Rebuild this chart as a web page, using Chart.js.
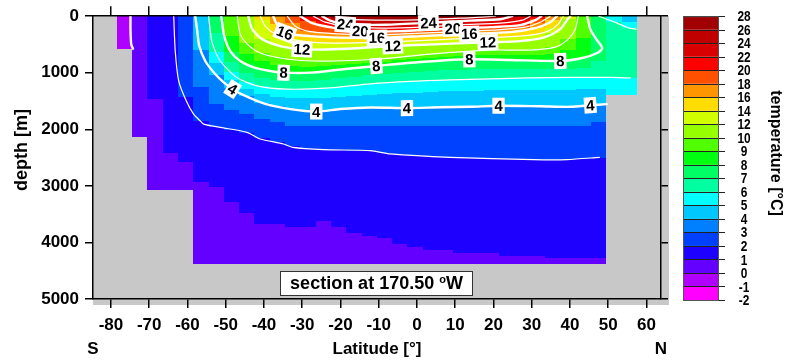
<!DOCTYPE html>
<html>
<head>
<meta charset="utf-8">
<title>Temperature section at 170.50°W</title>
<script src="https://cdn.jsdelivr.net/npm/chart.js"></script>
<style>
  html, body { margin: 0; padding: 0; background: #fff; }
</style>
</head>
<body>
<canvas id="section" width="788" height="362"></canvas>
<script>
// temperature classes (°C) and the fill colour of each class [levels[i], levels[i+1])
const levels = [-2, -1, 0, 1, 2, 3, 4, 5, 6, 7, 8, 9, 10, 12, 14, 16, 18, 20, 22, 24, 26, 28];
const bandColors = ['#ff00ff', '#b000ff', '#6400ff', '#1e00ff', '#0040ff', '#0080ff', '#00c8ff',
  '#00ffff', '#00ffa0', '#00ff64', '#00ff10', '#50ff00', '#96ff00', '#d2ff00', '#ffdc00',
  '#ff9600', '#ff5000', '#ff0000', '#d80000', '#c00000', '#a00000'];

// latitude edges of the 4-degree model columns
const colEdges = [-78.5, -74.5, -70.5, -66.5, -62.5, -58.5, -54.5, -50.5, -46.5, -42.5, -38.5,
  -34.5, -30.5, -26.5, -22.5, -18.5, -14.5, -10.5, -6.5, -2.5, 1.5, 5.5, 9.5, 13.5, 17.5, 21.5,
  25.5, 29.5, 33.5, 37.5, 41.5, 45.5, 49.5, 53.5, 57.5];

// sea floor depth of each column (m)
const seaFloor = [575, 2130, 3081, 3081, 3081,
  4380, 4380, 4380, 4380, 4380, 4380, 4380, 4380, 4380, 4380, 4380, 4380, 4380, 4380,
  4380, 4380, 4380, 4380, 4380, 4380, 4380, 4380, 4380, 4380, 4380, 4380, 4380, 1400, 1400];

// depth (m) down to which each column is warmer than the isotherm
const iso0 = [0, 2130, 3081, 3081, 3081,
  4380, 4380, 4380, 4380, 4380, 4380, 4380, 4380, 4380, 4380, 4380, 4380, 4380, 4380,
  4380, 4380, 4380, 4380, 4380, 4380, 4380, 4380, 4380, 4380, 4380, 4380, 4380, 1400, 1400];
const iso1 = [0, 0, 1467, 2424, 2583, 2935, 3023, 3287, 3481, 3680, 3680, 3727, 3727, 3627, 3727,
  3833, 3891, 3915, 4035, 4085, 4137, 4137, 4190, 4190, 4190, 4240, 4240, 4240, 4280, 4280, 4280,
  4280, 1400, 1400];
const iso2 = [0, 0, 0, 0, 1420, 1850, 1960, 2020, 2060, 2160, 2230, 2300, 2340, 2355, 2365, 2375,
  2385, 2420, 2440, 2460, 2475, 2490, 2500, 2510, 2515, 2525, 2530, 2535, 2535, 2535, 2520, 2500,
  1400, 1400];
const iso3 = [0, 0, 0, 0, 0, 1250, 1550, 1650, 1731, 1819, 1878, 1937, 1937, 1937, 1937, 1937,
  1937, 1937, 1937, 1937, 1937, 1937, 1937, 1937, 1937, 1937, 1937, 1937, 1937, 1937, 1937, 1878,
  1400, 1400];
const iso4 = [0, 0, 0, 0, 0, 600, 1036, 1274, 1419, 1526, 1594, 1646, 1672, 1673, 1645, 1629,
  1615, 1618, 1623, 1621, 1614, 1609, 1604, 1597, 1588, 1586, 1589, 1592, 1597, 1601, 1585, 1566,
  1400, 1400];
const iso5 = [0, 0, 0, 0, 0, 0, 830, 1130, 1290, 1380, 1420, 1440, 1440, 1440, 1430, 1410, 1390,
  1370, 1360, 1350, 1340, 1330, 1320, 1315, 1310, 1305, 1300, 1300, 1300, 1300, 1295, 1290,
  1400, 1400];
const iso6 = [0, 0, 0, 0, 0, 0, 630, 989, 1157, 1242, 1271, 1287, 1279, 1272, 1253, 1226, 1199,
  1181, 1164, 1150, 1140, 1130, 1122, 1115, 1108, 1102, 1096, 1090, 1087, 1083, 1083, 1083,
  1085, 1090];
const iso7 = [0, 0, 0, 0, 0, 0, 300, 810, 1000, 1090, 1130, 1140, 1140, 1120, 1100, 1070, 1045,
  1025, 1005, 985, 970, 958, 946, 940, 938, 938, 938, 937, 938, 928, 908, 800, 0, 0];
const iso8 = [0, 0, 0, 0, 0, 0, 0, 637, 845, 939, 984, 998, 998, 974, 945, 918, 892, 867, 843,
  818, 800, 785, 770, 764, 769, 774, 779, 784, 790, 773, 733, 0, 0, 0];
const iso9 = [0, 0, 0, 0, 0, 0, 0, 350, 660, 800, 855, 880, 890, 880, 868, 848, 830, 808, 783,
  757, 735, 718, 702, 690, 684, 686, 689, 684, 670, 600, 380, 0, 0, 0];
const iso10 = [0, 0, 0, 0, 0, 0, 0, 0, 474, 659, 726, 766, 785, 789, 790, 778, 766, 750, 723,
  696, 669, 651, 633, 615, 599, 599, 599, 584, 551, 408, 0, 0, 0, 0];
const iso12 = [0, 0, 0, 0, 0, 0, 0, 0, 0, 402, 508, 561, 585, 583, 581, 567, 552, 536, 523, 512,
  500, 489, 479, 469, 459, 449, 435, 392, 300, 48, 0, 0, 0, 0];
const iso14 = [0, 0, 0, 0, 0, 0, 0, 0, 0, 63, 329, 411, 452, 465, 474, 469, 463, 455, 445, 435,
  422, 409, 396, 386, 376, 362, 344, 306, 209, 0, 0, 0, 0, 0];
const iso16 = [0, 0, 0, 0, 0, 0, 0, 0, 0, 0, 145, 312, 347, 363, 376, 380, 381, 377, 366, 356,
  344, 331, 319, 307, 296, 285, 248, 196, 67, 0, 0, 0, 0, 0];
const iso18 = [0, 0, 0, 0, 0, 0, 0, 0, 0, 0, 0, 118, 258, 289, 309, 319, 323, 323, 313, 302, 292,
  282, 272, 259, 246, 226, 200, 123, 0, 0, 0, 0, 0, 0];
const iso20 = [0, 0, 0, 0, 0, 0, 0, 0, 0, 0, 0, 0, 79, 165, 218, 250, 264, 264, 264, 252, 239,
  226, 214, 204, 192, 174, 147, 45, 0, 0, 0, 0, 0, 0];
const iso22 = [0, 0, 0, 0, 0, 0, 0, 0, 0, 0, 0, 0, 0, 88, 152, 185, 200, 209, 203, 196, 183, 166,
  150, 139, 129, 107, 71, 0, 0, 0, 0, 0, 0, 0];
const iso24 = [0, 0, 0, 0, 0, 0, 0, 0, 0, 0, 0, 0, 0, 20, 116, 147, 148, 150, 139, 128, 116, 102,
  88, 74, 60, 30, 0, 0, 0, 0, 0, 0, 0, 0];
const iso26 = [0, 0, 0, 0, 0, 0, 0, 0, 0, 0, 0, 0, 0, 15, 30, 56, 60, 65, 70, 61, 52, 43, 34, 28,
  25, 18, 0, 0, 0, 0, 0, 0, 0, 0];

// cold surface water in the Bering Sea columns
const capCols = [32, 33];
const capBelow6 = [100, 210];
const capBelow5 = [0, 100];

// contour lines as [latitude, depth] pairs
const line0 = [[-74.9, 0], [-74.9, 250], [-74.7, 500], [-74.25, 575]];
const line2 = [[-63.6, 0], [-63.2, 616], [-62.3, 1144], [-60.3, 1500], [-58.4, 1731], [-56.7, 1849],
  [-55.8, 1907], [-51.4, 1966], [-44.4, 2054], [-41, 2171], [-34.9, 2259], [-32.5, 2320],
  [-24.4, 2359], [-12.2, 2377], [-7, 2435], [8.7, 2495], [30.5, 2535], [39.2, 2535], [47.7, 2495]];
const line4 = [[-57.96, 0], [-57.44, 264], [-56.92, 528], [-55.35, 792], [-53.0, 1003],
  [-50.38, 1179], [-48.2, 1290], [-44.89, 1408], [-39.66, 1549], [-33.12, 1642], [-26.33, 1686],
  [-20.05, 1642], [-12.21, 1614], [-2.61, 1625], [6.09, 1610], [13.93, 1602], [21.33, 1584],
  [32.24, 1593], [40.08, 1602], [45.31, 1575], [49.6, 1554]];
const line6 = [[-54.48, 0], [-54.04, 264], [-53.52, 475], [-51.43, 792], [-47.06, 1086],
  [-41.83, 1232], [-33.99, 1290], [-22.67, 1268], [-12.21, 1197], [-1.75, 1153], [8.71, 1127],
  [19.16, 1109], [29.62, 1092], [40.08, 1083], [50.54, 1083], [55.77, 1092]];
const line6cap = [[47.5, 0], [51.5, 100], [55.3, 206], [57.3, 229]];
const line8 = [[-51.16, 0], [-50.38, 352], [-48.81, 616], [-46.2, 792], [-42.27, 915],
  [-38.35, 968], [-34.88, 998], [-27.9, 998], [-18.75, 933], [-10.64, 880], [0.86, 810],
  [13.67, 762], [24.39, 775], [37.46, 792], [43.22, 739], [47.14, 651], [48.45, 563],
  [46.88, 405], [45.31, 229], [44.52, 0]];
const line10 = [[-46.98, 0], [-46.2, 317], [-44.1, 511], [-40.97, 651], [-35.74, 739],
  [-30.51, 783], [-21.36, 792], [-9.59, 757], [3.49, 669], [19.16, 599], [29.62, 599],
  [36.16, 546], [39.56, 405], [41.38, 229], [42.17, 0]];
const line12 = [[-44.1, 0], [-43.06, 229], [-40.45, 405], [-35.74, 528], [-30.07, 586],
  [-20.05, 581], [-6.33, 528], [6.09, 493], [18.51, 461], [27.01, 440], [33.54, 370],
  [37.46, 229], [39.03, 88], [40.08, 0]];
const line14 = [[-40.97, 0], [-39.66, 176], [-37.05, 317], [-33.12, 405], [-27.9, 458],
  [-20.05, 475], [-9.59, 458], [0.86, 431], [11.32, 396], [21.78, 370], [29.62, 334],
  [34.33, 264], [36.94, 141], [38.25, 0]];
const line16 = [[-37.57, 0], [-36.78, 123], [-34.56, 294], [-27.9, 352], [-20.05, 378],
  [-10.46, 382], [0.86, 352], [13.67, 312], [24.39, 282], [30.93, 211], [34.85, 106], [36.6, 0]];
const line18 = [[-33.91, 0], [-31.82, 176], [-27.9, 273], [-18.75, 317], [-9.59, 326],
  [0.86, 299], [11.32, 273], [21.78, 238], [28.32, 194], [32.24, 106], [34.85, 0]];
const line20 = [[-30.51, 0], [-27.37, 123], [-21.36, 211], [-14.82, 264], [-4.37, 264],
  [9.36, 220], [19.16, 194], [27.0, 158], [30.93, 70], [32.5, 0]];
const line22 = [[-27.11, 0], [-23.97, 106], [-18.75, 176], [-9.59, 211], [0.86, 194],
  [11.32, 150], [21.78, 123], [27.53, 70], [29.62, 0]];
const line24 = [[-24.76, 0], [-22.67, 79], [-18.75, 146], [-8.29, 150], [3.03, 118],
  [13.93, 79], [21.78, 53], [24.92, 0]];
const line26 = [[-21.36, 0], [-18.75, 53], [-4.37, 70], [11.32, 35], [20.47, 0]];

// contour labels: level, latitude, depth
const labelLevel = [24, 24, 20, 20, 16, 16, 16, 12, 12, 12, 8, 8, 8, 8, 4, 4, 4, 4, 4];
const labelLat = [-18.75, 3.03, -14.82, 9.36, -34.56, -10.46, 13.67, -30.07, -6.33, 18.51,
  -34.88, -10.64, 13.67, 37.46, -48.2, -26.33, -2.61, 21.33, 45.31];
const labelDepth = [146, 118, 264, 220, 294, 382, 312, 586, 528, 461, 998, 880, 762, 792,
  1290, 1686, 1625, 1584, 1575];

const isotherms = [[0, iso0], [1, iso1], [2, iso2], [3, iso3], [4, iso4], [5, iso5], [6, iso6],
  [7, iso7], [8, iso8], [9, iso9], [10, iso10], [12, iso12], [14, iso14], [16, iso16],
  [18, iso18], [20, iso20], [22, iso22], [24, iso24], [26, iso26]];
const contours = [[0, line0], [2, line2], [4, line4], [6, line6], [6, line6cap], [8, line8],
  [10, line10], [12, line12], [14, line14], [16, line16], [18, line18], [20, line20],
  [22, line22], [24, line24], [26, line26]];

const FONT = '"Liberation Sans", Arial, Helvetica, sans-serif';
const colorFor = t => bandColors[levels.indexOf(t)];

// angle of a contour around the vertex closest to (lat, depth), in pixel space
function slopeAt(pts, lat, depth, xs, ys) {
  let best = 0, bd = Infinity;
  pts.forEach((p, i) => {
    const d = Math.hypot(xs.getPixelForValue(p[0]) - xs.getPixelForValue(lat),
      ys.getPixelForValue(p[1]) - ys.getPixelForValue(depth));
    if (d < bd) { bd = d; best = i; }
  });
  const a = pts[Math.max(0, best - 1)], b = pts[Math.min(pts.length - 1, best + 1)];
  let ang = Math.atan2(ys.getPixelForValue(b[1]) - ys.getPixelForValue(a[1]),
    xs.getPixelForValue(b[0]) - xs.getPixelForValue(a[0]));
  if (ang > Math.PI / 2) ang -= Math.PI;
  if (ang < -Math.PI / 2) ang += Math.PI;
  return ang;
}

const sectionPlugin = {
  id: 'section',
  beforeDraw(chart) {
    const { ctx, chartArea: a } = chart;
    const xs = chart.scales.x, ys = chart.scales.y;
    ctx.save();
    ctx.fillStyle = '#fff';
    ctx.fillRect(0, 0, chart.width, chart.height);
    ctx.fillStyle = '#c8c8c8';
    ctx.fillRect(a.left, a.top, a.right - a.left + 8, a.bottom - a.top + 6);

    // ocean cells, painted from the coldest class upward
    for (let k = 0; k < seaFloor.length; k++) {
      const x0 = Math.round(xs.getPixelForValue(colEdges[k]));
      const x1 = Math.round(xs.getPixelForValue(colEdges[k + 1]));
      const y0 = Math.round(ys.getPixelForValue(0));
      const paint = (depth, color) => {
        if (!(depth > 0)) return;
        ctx.fillStyle = color;
        ctx.fillRect(x0, y0, x1 - x0, Math.round(ys.getPixelForValue(depth)) - y0);
      };
      paint(seaFloor[k], colorFor(-1));
      isotherms.forEach(([t, d]) => paint(d[k], colorFor(t)));
      const c = capCols.indexOf(k);
      if (c >= 0) {
        paint(capBelow6[c], colorFor(5));
        paint(capBelow5[c], colorFor(4));
      }
    }
    ctx.restore();
  },
  afterDatasetsDraw(chart) {
    const { ctx } = chart;
    const xs = chart.scales.x, ys = chart.scales.y;
    ctx.save();
    ctx.font = 'bold 15px ' + FONT;
    ctx.textAlign = 'center';
    ctx.textBaseline = 'middle';
    labelLevel.forEach((lev, i) => {
      const pts = contours.find(c => c[0] === lev)[1];
      const ang = slopeAt(pts, labelLat[i], labelDepth[i], xs, ys);
      const txt = String(lev);
      const w = ctx.measureText(txt).width + 4;
      ctx.save();
      ctx.translate(xs.getPixelForValue(labelLat[i]), ys.getPixelForValue(labelDepth[i]));
      ctx.rotate(ang);
      ctx.fillStyle = '#fff';
      ctx.fillRect(-w / 2, -8, w, 16);
      ctx.fillStyle = '#000';
      ctx.fillText(txt, 0, 1);
      ctx.restore();
    });
    ctx.restore();
  },
  afterDraw(chart) {
    const { ctx, chartArea: a } = chart;
    ctx.save();
    ctx.fillStyle = '#000';

    // axis titles
    ctx.font = 'bold 17px ' + FONT;
    ctx.textAlign = 'center';
    ctx.textBaseline = 'middle';
    const ty = a.bottom + 50;
    ctx.fillText('S', a.left, ty);
    ctx.fillText('N', a.right, ty);
    ctx.fillText('Latitude [°]', (a.left + a.right) / 2, ty);
    ctx.save();
    ctx.font = 'bold 18px ' + FONT;
    ctx.translate(22, 150);
    ctx.rotate(-Math.PI / 2);
    ctx.fillText('depth [m]', 0, 0);
    ctx.restore();

    // section annotation
    const bx = 376.5, by = a.bottom - 15.5;
    ctx.fillStyle = '#fff';
    ctx.fillRect(bx - 96.5, by - 12.5, 193, 25);
    ctx.strokeStyle = '#333';
    ctx.lineWidth = 1;
    ctx.strokeRect(bx - 96.5 + 0.5, by - 12.5 + 0.5, 192, 24);
    ctx.fillStyle = '#000';
    ctx.textAlign = 'left';
    ctx.font = 'bold 18px ' + FONT;
    const main = 'section at 170.50 ';
    const wMain = ctx.measureText(main).width;
    const wW = ctx.measureText('W').width;
    ctx.font = 'bold 11px ' + FONT;
    const wO = ctx.measureText('o').width;
    const tx = bx - (wMain + wO + wW) / 2;
    ctx.font = 'bold 18px ' + FONT;
    ctx.fillText(main, tx, by + 1);
    ctx.font = 'bold 11px ' + FONT;
    ctx.fillText('o', tx + wMain, by - 4);
    ctx.font = 'bold 18px ' + FONT;
    ctx.fillText('W', tx + wMain + wO, by + 1);

    // colour bar
    const cbTop = a.top, cbBot = a.bottom + 1, cbLeft = a.right + 22, cbW = 35;
    const n = bandColors.length, h = (cbBot - cbTop) / n;
    for (let i = 0; i < n; i++) {
      ctx.fillStyle = bandColors[i];
      ctx.fillRect(cbLeft, cbBot - (i + 1) * h, cbW, h);
    }
    ctx.strokeStyle = '#222';
    ctx.lineWidth = 1;
    ctx.beginPath();
    for (let i = 0; i <= n; i++) {
      const yy = Math.round(cbBot - i * h) + 0.5;
      ctx.moveTo(cbLeft, yy);
      ctx.lineTo(cbLeft + cbW + 7, yy);
    }
    ctx.stroke();
    ctx.strokeStyle = '#555';
    ctx.strokeRect(cbLeft + 0.5, cbTop + 0.5, cbW, cbBot - cbTop);
    ctx.fillStyle = '#000';
    ctx.font = 'bold 14px ' + FONT;
    ctx.textAlign = 'center';
    levels.forEach((lv, i) => {
      ctx.save();
      ctx.translate(cbLeft + cbW + 26, cbBot - i * h + 1);
      ctx.scale(0.85, 1.05);
      ctx.fillText(String(lv), 0, 0);
      ctx.restore();
    });
    ctx.font = 'bold 16px ' + FONT;
    ctx.save();
    ctx.translate(775, 153);
    ctx.rotate(Math.PI / 2);
    ctx.fillText('temperature [°C]', 0, 0);
    ctx.restore();
    ctx.restore();
  }
};

const datasets = contours.map(([lev, pts]) => ({
  data: pts,
  showLine: true,
  borderColor: '#fff',
  borderWidth: lev % 4 === 0 ? 2.4 : 1.2,
  pointRadius: 0,
  tension: 0.25,
  borderJoinStyle: 'round',
  borderCapStyle: 'round'
}));

const tickFont = { family: FONT, size: 17, weight: 'bold' };
const edge = { color: '#000', width: 1.5 };

new Chart(document.getElementById('section'), {
  type: 'scatter',
  data: { datasets },
  plugins: [sectionPlugin],
  options: {
    responsive: false,
    animation: false,
    events: [],
    layout: { padding: 0 },
    plugins: { legend: { display: false }, tooltip: { enabled: false } },
    scales: {
      x: {
        type: 'linear', position: 'bottom', min: -84.7, max: 63.8,
        afterFit: s => { s.height = 63; },
        ticks: { stepSize: 10, includeBounds: false, autoSkip: false, maxRotation: 0,
          color: '#000', font: tickFont, padding: 7, callback: v => String(v) },
        grid: { drawOnChartArea: false, tickLength: 9, color: '#000', lineWidth: 1.5 },
        border: edge
      },
      xTop: {
        type: 'linear', position: 'top', min: -84.7, max: 63.8,
        afterFit: s => { s.height = 15; },
        ticks: { display: false, stepSize: 10, includeBounds: false },
        grid: { drawOnChartArea: false, tickLength: 10, color: '#000', lineWidth: 1.5 },
        border: edge
      },
      y: {
        type: 'linear', position: 'left', reverse: true, min: 0, max: 5000,
        afterFit: s => { s.width = 93; },
        ticks: { stepSize: 1000, color: '#000', font: tickFont, padding: 6,
          callback: v => String(v) },
        grid: { drawOnChartArea: false, tickLength: 8, color: '#000', lineWidth: 1.5 },
        border: edge
      },
      yRight: {
        type: 'linear', position: 'right', reverse: true, min: 0, max: 5000,
        afterFit: s => { s.width = 127; },
        ticks: { display: false, stepSize: 1000 },
        grid: { drawOnChartArea: false, tickLength: 7, color: '#000', lineWidth: 1.5 },
        border: edge
      }
    }
  }
});
</script>
</body>
</html>
